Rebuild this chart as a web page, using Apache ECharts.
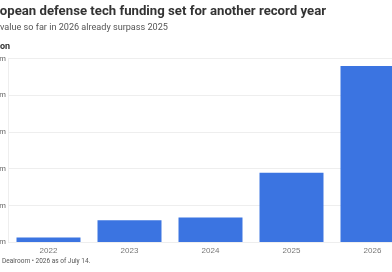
<!DOCTYPE html>
<html><head><meta charset="utf-8">
<script src="https://cdn.jsdelivr.net/npm/echarts@6/dist/echarts.min.js"></script>
<style>html,body{margin:0;padding:0;background:#fff}#c{width:392px;height:272px}</style>
</head><body><div id="c"></div>
<script>
const categories = ['2022','2023','2024','2025','2026'];
const funding = [120, 590, 670, 1890, 4800];
const tickLabels = ['0m','1,000m','2,000m','3,000m','4,000m','5,000m'];
const titleHidden = 'Eur', titleVisible = 'opean defense tech funding set for another record year';
const subHidden = 'Deal ', subVisible = 'value so far in 2026 already surpass 2025';
const unitHidden = 'US$ milli', unitVisible = 'on';
const srcHidden = 'Source: ', srcVisible = 'Dealroom • 2026 as of July 14.';

const FAM = '"Liberation Sans Narrow", "Roboto", sans-serif';
const cv = document.createElement('canvas').getContext('2d');
function w(t, font){ cv.font = font; return cv.measureText(t).width; }
function fit(t, weight, target){ const base = w(t, weight+' 100px '+FAM); return Math.round(100*target/base*10)/10; }
const tSize = fit(titleVisible, 700, 327);
const sSize = fit(subVisible, 400, 168);
const rSize = fit(srcVisible, 400, 88);
const tFont = '700 '+tSize+'px '+FAM, sFont = '400 '+sSize+'px '+FAM, rFont='400 '+rSize+'px '+FAM;
const uFont = '700 9px '+FAM;

const chart = echarts.init(document.getElementById('c'), null, {renderer:'canvas'});
chart.setOption({
  animation:false,
  backgroundColor:'#fff',
  grid:{left:8, right:-21, top:58.6, bottom:30, containLabel:false, outerBoundsMode:'none'},
  xAxis:{type:'category', data:categories,
    axisLine:{show:false}, axisTick:{show:false},
    axisLabel:{color:'#777', fontSize:8, fontFamily:'"Liberation Sans", sans-serif', margin:5}},
  yAxis:{type:'value', min:0, max:5000, interval:1000,
    axisLine:{show:true, lineStyle:{color:'#eeeeee'}},
    splitLine:{lineStyle:{color:'#eeeeee'}},
    axisLabel:{color:'#666', fontSize:8, fontFamily:'"Liberation Sans", sans-serif', margin:2,
      formatter:(v)=>tickLabels[Math.round(v/1000)]}},
  series:[{type:'bar', data:funding, barCategoryGap:'21%',
    itemStyle:{color:'#3b74e1'}}],
  graphic:[
    {type:'text', x:-w(titleHidden,tFont), y:5, style:{text:titleHidden+titleVisible, fill:'#333', font:tFont}},
    {type:'text', x:-w(subHidden,sFont), y:23, style:{text:subHidden+subVisible, fill:'#555', font:sFont}},
    {type:'text', x:-w(unitHidden,uFont), y:42, style:{text:unitHidden+unitVisible, fill:'#333', font:uFont}},
    {type:'text', x:2-w(srcHidden,rFont), y:258, style:{text:srcHidden+srcVisible, fill:'#555', font:rFont}}
  ]
});
</script></body></html>
